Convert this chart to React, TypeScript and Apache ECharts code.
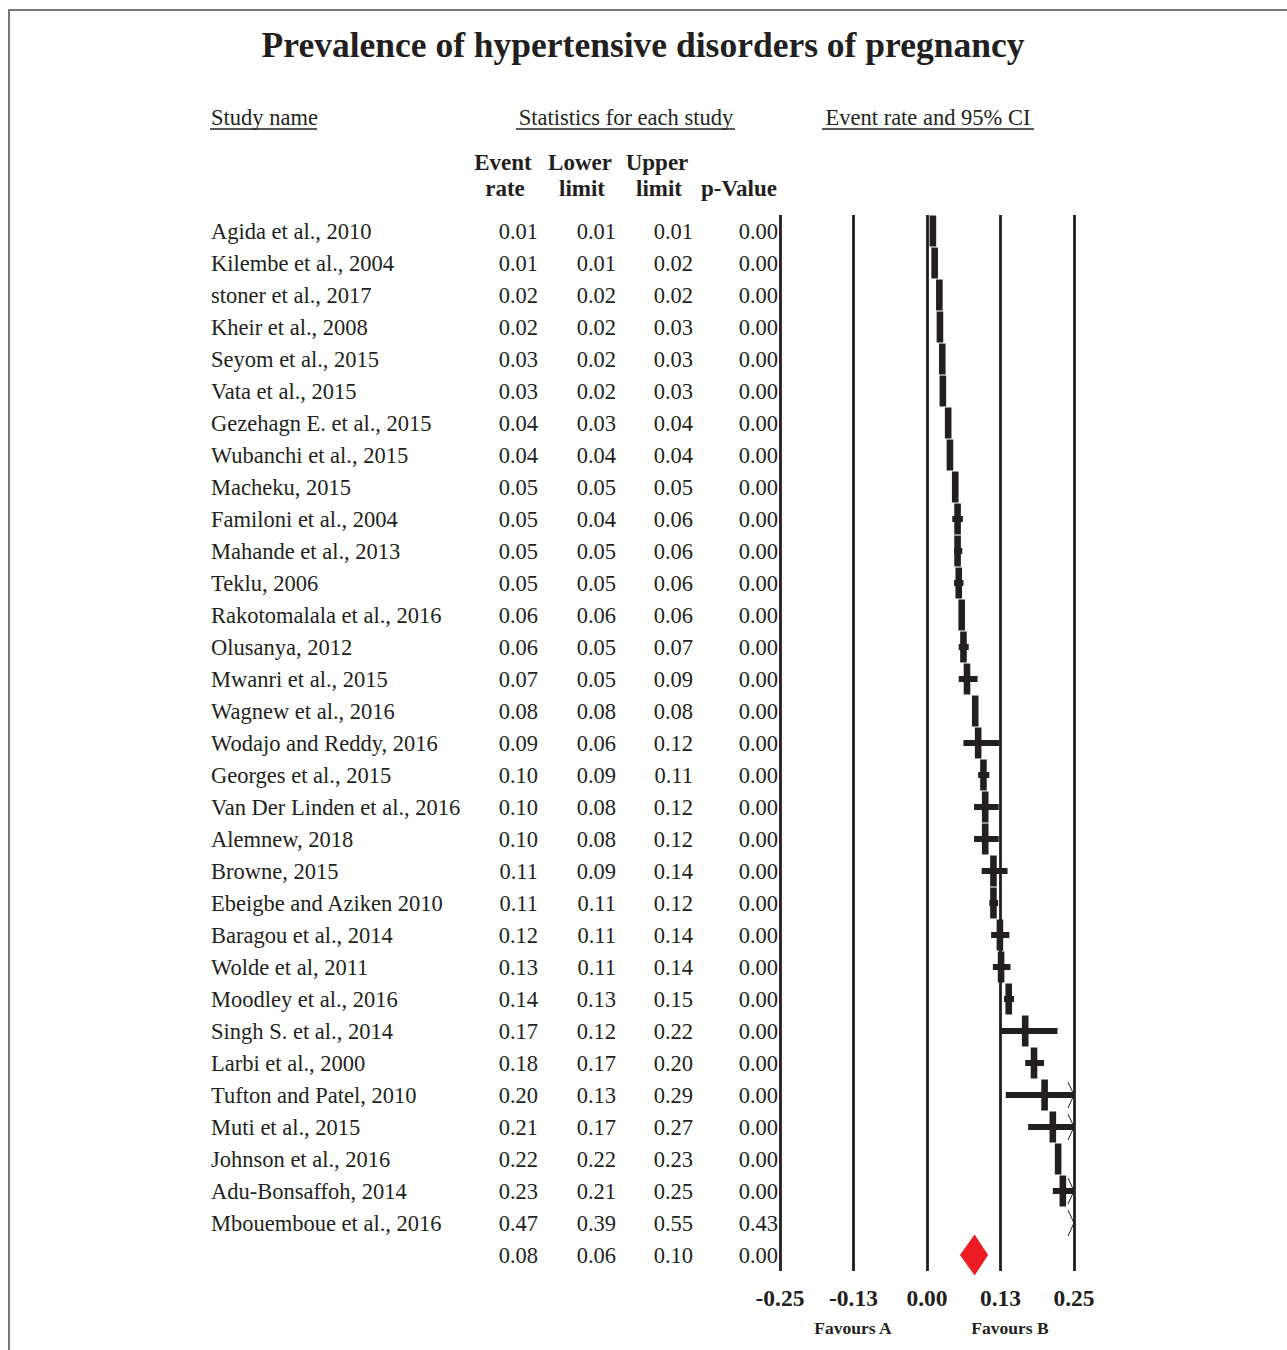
import React, { useEffect, useRef } from "react";
import * as echarts from "echarts";

// ---------- data ----------
const studies = [
  "Agida et al., 2010",
  "Kilembe et al., 2004",
  "stoner et al., 2017",
  "Kheir et al., 2008",
  "Seyom et al., 2015",
  "Vata et al., 2015",
  "Gezehagn E. et al., 2015",
  "Wubanchi et al., 2015",
  "Macheku, 2015",
  "Familoni et al., 2004",
  "Mahande et al., 2013",
  "Teklu, 2006",
  "Rakotomalala et al., 2016",
  "Olusanya, 2012",
  "Mwanri et al., 2015",
  "Wagnew et al., 2016",
  "Wodajo and Reddy, 2016",
  "Georges et al., 2015",
  "Van Der Linden et al., 2016",
  "Alemnew, 2018",
  "Browne, 2015",
  "Ebeigbe and Aziken 2010",
  "Baragou et al., 2014",
  "Wolde et al, 2011",
  "Moodley et al., 2016",
  "Singh S. et al., 2014",
  "Larbi et al., 2000",
  "Tufton and Patel, 2010",
  "Muti et al., 2015",
  "Johnson et al., 2016",
  "Adu-Bonsaffoh, 2014",
  "Mbouemboue et al., 2016",
];

const eventRate = [
  0.010, 0.013, 0.021, 0.022, 0.026, 0.027, 0.036, 0.039, 0.048, 0.052, 0.052,
  0.054, 0.059, 0.062, 0.068, 0.082, 0.087, 0.096, 0.099, 0.099, 0.113, 0.113,
  0.124, 0.126, 0.139, 0.167, 0.182, 0.200, 0.214, 0.223, 0.231, 0.470,
];
const lowerLimit = [
  0.009, 0.011, 0.018, 0.019, 0.022, 0.023, 0.033, 0.036, 0.046, 0.043, 0.046,
  0.046, 0.056, 0.054, 0.054, 0.078, 0.062, 0.087, 0.080, 0.080, 0.093, 0.106,
  0.109, 0.112, 0.131, 0.124, 0.167, 0.134, 0.172, 0.218, 0.214, 0.390,
];
const upperLimit = [
  0.011, 0.016, 0.024, 0.026, 0.030, 0.031, 0.040, 0.042, 0.051, 0.061, 0.060,
  0.062, 0.063, 0.071, 0.086, 0.084, 0.123, 0.106, 0.122, 0.122, 0.137, 0.121,
  0.140, 0.142, 0.148, 0.222, 0.199, 0.290, 0.270, 0.228, 0.252, 0.550,
];
const pValue = [
  0, 0, 0, 0, 0, 0, 0, 0, 0, 0, 0, 0, 0, 0, 0, 0, 0, 0, 0, 0, 0, 0, 0, 0, 0, 0,
  0, 0, 0, 0, 0, 0.43,
];

const summaryRate = 0.081;
const summaryLower = 0.056;
const summaryUpper = 0.104;
const summaryP = 0.0;

const axisMin = -0.25;
const axisMax = 0.25;
const axisStep = 0.125;

const INK = "#231f20";
const RED = "#ed1c24";
const SERIF = '"Liberation Serif", "Times New Roman", serif';

const App: React.FC = () => {
  const ref = useRef<HTMLDivElement>(null);

  useEffect(() => {
    document.body.style.margin = "0";
    if (!ref.current) return;
    const chart = echarts.init(ref.current, undefined, { renderer: "svg" });

    const rowLabels = studies.concat(["Summary"]);

    const studyData = studies.map((_, i) => [
      i,
      eventRate[i],
      lowerLimit[i],
      upperLimit[i],
    ]);
    const tableData = rowLabels.map((_, i) => [i, 0]);

    const fmt = (v: number) => v.toFixed(2);

    const txt = (
      text: string,
      x: number,
      y: number,
      font: string,
      align: string
    ) => ({
      type: "text",
      x,
      y,
      style: {
        text,
        font,
        fill: INK,
        textAlign: align,
        textVerticalAlign: "middle",
        align,
        verticalAlign: "middle",
      },
    });

    const option: any = {
      animation: false,
      grid: { left: 780, right: 213, top: 215, bottom: 79 },
      xAxis: {
        type: "value",
        min: axisMin,
        max: axisMax,
        interval: axisStep,
        axisLine: { show: false },
        axisTick: { show: false },
        splitLine: { show: true, lineStyle: { color: INK, width: 2.8 } },
        axisLabel: {
          show: true,
          margin: 15,
          fontFamily: SERIF,
          fontWeight: "bold",
          fontSize: 23.5,
          color: INK,
          showMinLabel: true,
          showMaxLabel: true,
          formatter: (v: number) => fmt(v),
        },
      },
      yAxis: {
        type: "category",
        data: rowLabels,
        inverse: true,
        axisLine: { show: false },
        axisTick: { show: false },
        axisLabel: { show: false },
        splitLine: { show: false },
      },
      graphic: [
        {
          type: "rect",
          silent: true,
          shape: { x: 9, y: 10, width: 1400, height: 1400 },
          style: { fill: "none", stroke: "#4a4a4a", lineWidth: 1.5 },
        },
        txt(
          "Prevalence of hypertensive disorders of pregnancy",
          643,
          45,
          `bold 35.5px ${SERIF}`,
          "center"
        ),
        txt("Study name", 211, 117, `22.5px ${SERIF}`, "left"),
        {
          type: "line",
          shape: { x1: 210, y1: 129, x2: 317, y2: 129 },
          style: { stroke: INK, lineWidth: 1.3 },
        },
        txt("Statistics for each study", 626, 117, `22.5px ${SERIF}`, "center"),
        {
          type: "line",
          shape: { x1: 516, y1: 129, x2: 735, y2: 129 },
          style: { stroke: INK, lineWidth: 1.3 },
        },
        txt("Event rate and 95% CI", 928, 117, `22.5px ${SERIF}`, "center"),
        {
          type: "line",
          shape: { x1: 822, y1: 129, x2: 1034, y2: 129 },
          style: { stroke: INK, lineWidth: 1.3 },
        },
        ...[
          ["Event", 503, 162],
          ["rate", 505, 188],
          ["Lower", 580, 162],
          ["limit", 582, 188],
          ["Upper", 657, 162],
          ["limit", 659, 188],
          ["p-Value", 739, 188],
        ].map(([t, x, y]) =>
          txt(t as string, x as number, y as number, `bold 23px ${SERIF}`, "center")
        ),
        txt("Favours A", 853, 1328, `bold 17.5px ${SERIF}`, "center"),
        txt("Favours B", 1010, 1328, `bold 17.5px ${SERIF}`, "center"),
      ],
      series: [
        {
          type: "custom",
          name: "table",
          silent: true,
          clip: false,
          data: tableData,
          encode: { x: 1, y: 0 },
          renderItem: (params: any, api: any) => {
            const i = api.value(0);
            const y = api.coord([0, i])[1] + 0.5;
            const isSummary = i >= studies.length;
            const rate = isSummary ? summaryRate : eventRate[i];
            const lo = isSummary ? summaryLower : lowerLimit[i];
            const hi = isSummary ? summaryUpper : upperLimit[i];
            const p = isSummary ? summaryP : pValue[i];
            const f = `22.5px ${SERIF}`;
            const children: any[] = [];
            if (!isSummary) children.push(txt(studies[i], 211, y, f, "left"));
            children.push(txt(fmt(rate), 538, y, f, "right"));
            children.push(txt(fmt(lo), 616, y, f, "right"));
            children.push(txt(fmt(hi), 693, y, f, "right"));
            children.push(txt(fmt(p), 778, y, f, "right"));
            return { type: "group", children };
          },
        },
        {
          type: "custom",
          name: "studies",
          silent: true,
          clip: false,
          data: studyData,
          encode: { x: [1, 2, 3], y: 0 },
          renderItem: (params: any, api: any) => {
            const i = api.value(0);
            const r = api.value(1);
            const lo = api.value(2);
            const hi = api.value(3);
            const y = api.coord([0, i])[1];
            const cx = (v: number) =>
              api.coord([Math.max(axisMin, Math.min(axisMax, v)), i])[0];
            const xMax = cx(axisMax);
            const children: any[] = [];
            if (lo < axisMax) {
              const x1 = cx(lo);
              const x2 = cx(hi);
              children.push({
                type: "rect",
                shape: { x: x1, y: y - 3, width: x2 - x1, height: 6 },
                style: { fill: INK },
              });
              if (r <= axisMax) {
                const xc = cx(r);
                children.push({
                  type: "rect",
                  shape: { x: xc - 3.3, y: y - 15.5, width: 6.6, height: 31 },
                  style: { fill: INK },
                });
              }
            }
            if (hi > axisMax) {
              children.push({
                type: "polyline",
                shape: {
                  points: [
                    [xMax - 6, y - 13],
                    [xMax, y],
                    [xMax - 6, y + 13],
                  ],
                },
                style: { stroke: INK, lineWidth: 1, fill: "none" },
              });
            }
            return { type: "group", children };
          },
        },
        {
          type: "custom",
          name: "summary",
          silent: true,
          clip: false,
          data: [[studies.length, summaryRate, summaryLower, summaryUpper]],
          encode: { x: [1, 2, 3], y: 0 },
          renderItem: (params: any, api: any) => {
            const i = api.value(0);
            const c = api.coord([api.value(1), i]);
            const l = api.coord([api.value(2), i]);
            const u = api.coord([api.value(3), i]);
            const y = c[1];
            return {
              type: "polygon",
              shape: {
                points: [
                  [l[0], y],
                  [c[0], y - 20.5],
                  [u[0], y],
                  [c[0], y + 20.5],
                ],
              },
              style: { fill: RED },
            };
          },
        },
      ],
    };

    chart.setOption(option);
    return () => {
      chart.dispose();
    };
  }, []);

  return <div ref={ref} style={{ width: 1287, height: 1350 }} />;
};

export default App;
